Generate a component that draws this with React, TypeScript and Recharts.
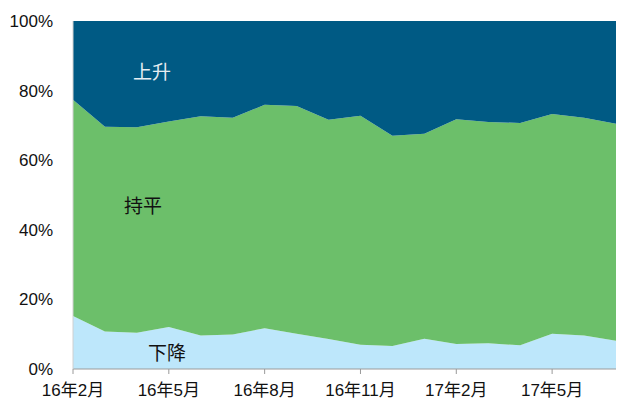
import React from 'react';
import { AreaChart, Area, XAxis, YAxis } from 'recharts';

const categories = [
  '16年2月', '16年3月', '16年4月', '16年5月', '16年6月', '16年7月', '16年8月', '16年9月', '16年10月',
  '16年11月', '16年12月', '17年1月', '17年2月', '17年3月', '17年4月', '17年5月', '17年6月', '17年7月',
];
const downValues = [15.2, 10.8, 10.4, 12.1, 9.6, 9.9, 11.7, 10.1, 8.6, 7.0, 6.6, 8.7, 7.2, 7.4, 6.8, 10.1, 9.6, 8.1];
const flatValues = [62.2, 58.8, 59.1, 59.0, 63.0, 62.3, 64.2, 65.5, 63.0, 65.8, 60.4, 58.9, 64.6, 63.6, 63.9, 63.2, 62.6, 62.4];
const upValues = [22.6, 30.4, 30.5, 28.9, 27.4, 27.8, 24.1, 24.4, 28.4, 27.2, 33.0, 32.4, 28.2, 29.0, 29.3, 26.7, 27.8, 29.5];
const yTicks = [0, 20, 40, 60, 80, 100];

const data = categories.map((c, i) => ({
  month: c,
  down: downValues[i],
  flat: flatValues[i],
  up: upValues[i],
}));

const FONT = '"Liberation Sans", Arial, "Noto Sans CJK SC", sans-serif';

export default function App() {
  return (
    <div style={{ position: 'absolute', left: 0, top: 0, width: 619, height: 408, background: '#fff' }}>
      <AreaChart
        width={619}
        height={408}
        data={data}
        margin={{ top: 21, right: 3, bottom: 0, left: 0 }}
        style={{ fontFamily: FONT }}
      >
        <XAxis
          dataKey="month"
          interval={2}
          height={39}
          axisLine={{ stroke: '#9a9a9a' }}
          tickLine={{ stroke: '#9a9a9a' }}
          tickSize={5}
          tickMargin={10}
          tick={{ fill: '#111', fontSize: 17 }}
        />
        <YAxis
          type="number"
          domain={[0, 100]}
          ticks={yTicks}
          width={73}
          axisLine={{ stroke: '#d0d0d0' }}
          tickLine={false}
          tickSize={0}
          tickMargin={20}
          tickFormatter={(v: number) => `${v}%`}
          tick={{ fill: '#111', fontSize: 17 }}
        />
        <Area type="linear" dataKey="down" stackId="a" stroke="none" fill="#bde7fb" fillOpacity={1} isAnimationActive={false} />
        <Area type="linear" dataKey="flat" stackId="a" stroke="none" fill="#6cbf6a" fillOpacity={1} isAnimationActive={false} />
        <Area type="linear" dataKey="up" stackId="a" stroke="none" fill="#005a84" fillOpacity={1} isAnimationActive={false} />
      </AreaChart>
      <svg
        width={619}
        height={408}
        style={{ position: 'absolute', left: 0, top: 0, pointerEvents: 'none', fontFamily: FONT }}
      >
        <text x={152} y={72} textAnchor="middle" dominantBaseline="central" fontSize={19} fill="#e6edf2">上升</text>
        <text x={143} y={206} textAnchor="middle" dominantBaseline="central" fontSize={19} fill="#111">持平</text>
        <text x={167} y={353} textAnchor="middle" dominantBaseline="central" fontSize={19} fill="#111">下降</text>
      </svg>
    </div>
  );
}
